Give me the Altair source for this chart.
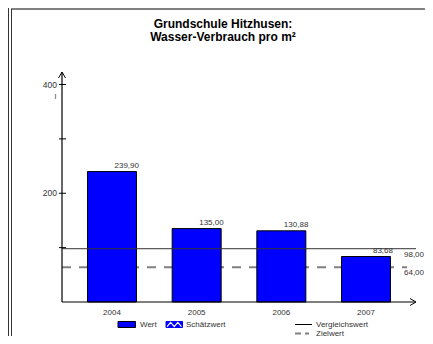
import altair as alt
import pandas as pd

# ---- data ----
years = [2004, 2005, 2006, 2007]
values = [239.90, 135.00, 130.88, 83.68]
value_labels = ["239,90", "135,00", "130,88", "83,68"]
year_labels = ["2004", "2005", "2006", "2007"]
ref_names = ["Vergleichswert", "Zielwert"]
ref_values = [98.00, 64.00]
ref_labels = ["98,00", "64,00"]
y_tick_values = [100, 200, 300, 400]
y_label_values = [200, 400]
y_label_texts = ["200", "400"]
title_lines = ["Grundschule Hitzhusen:", "Wasser-Verbrauch pro m²"]

bars = pd.DataFrame({"year": years, "value": values, "label": value_labels,
                     "ylab": year_labels})
refs = pd.DataFrame({"name": ref_names, "value": ref_values, "label": ref_labels})
yt = pd.DataFrame({"v": y_tick_values})
yl = pd.DataFrame({"v": y_label_values, "t": y_label_texts})
one = pd.DataFrame({"d": [0]})

FONT = "Liberation Sans"
TXT = "#333333"
W, H = 354, 230

xs = alt.Scale(domain=[2003.4095, 2007.5906], nice=False, zero=False, padding=0)
ys = alt.Scale(domain=[0, 423], nice=False, padding=0)

X = lambda f: alt.X(f, type="quantitative", scale=xs, axis=None)
Y = lambda f: alt.Y(f, type="quantitative", scale=ys, axis=None)

# bars
bar = alt.Chart(bars).mark_bar(size=49, color="#0000FF", stroke="black",
                               strokeWidth=1).encode(x=X("year"), y=Y("value"),
                                                     y2=alt.datum(0))
bar_txt = alt.Chart(bars).mark_text(align="right", baseline="bottom", dx=27, dy=-2,
                                    fontSize=8, font=FONT, color=TXT).encode(
    x=X("year"), y=Y("value"), text="label:N")
x_txt = alt.Chart(bars).mark_text(align="center", baseline="middle", fontSize=8,
                                  font=FONT, color=TXT).encode(
    x=X("year"), y=alt.value(H + 11), text="ylab:N")

# reference lines
verg = alt.Chart(refs).transform_filter(alt.datum.name == "Vergleichswert").mark_rule(
    color="#333333", strokeWidth=1).encode(y=Y("value"), x=alt.value(0), x2=alt.value(354))
ziel = alt.Chart(refs).transform_filter(alt.datum.name == "Zielwert").mark_rule(
    color="#808080", strokeWidth=2, strokeDash=[9, 8]).encode(
    y=Y("value"), x=alt.value(0), x2=alt.value(345))
ref_txt = alt.Chart(refs).mark_text(align="left", baseline="middle", dy=6, fontSize=8,
                                    font=FONT, color=TXT).encode(
    y=Y("value"), x=alt.value(342), text="label:N")

# axes
yaxis = alt.Chart(one).mark_rule(color="black", strokeWidth=1.2).encode(
    x=alt.value(0), y=alt.value(0), y2=alt.value(H))
xaxis = alt.Chart(one).mark_rule(color="black", strokeWidth=1.2).encode(
    x=alt.value(0), x2=alt.value(W), y=alt.value(H))
yarrow = alt.Chart(one).mark_point(shape="M-1,0.85L0,-0.85L1,0.85", filled=False,
                                   stroke="black", strokeWidth=1, size=49,
                                   opacity=1).encode(x=alt.value(0), y=alt.value(3))
xarrow = alt.Chart(one).mark_point(shape="M-0.85,-1L0.85,0L-0.85,1", filled=False,
                                   stroke="black", strokeWidth=1, size=49,
                                   opacity=1).encode(x=alt.value(W - 3), y=alt.value(H))
yticks = alt.Chart(yt).mark_rule(color="black", strokeWidth=1).encode(
    y=Y("v"), x=alt.value(-3), x2=alt.value(4))
ylabels = alt.Chart(yl).mark_text(align="right", baseline="middle", fontSize=8.5,
                                  font=FONT, color=TXT).encode(
    y=Y("v"), x=alt.value(-5), text="t:N")
ymark = alt.Chart(one).mark_text(text="I", align="center", baseline="middle",
                                 fontSize=7, font=FONT, color=TXT).encode(
    x=alt.value(-6.5), y=alt.value(25))

# title
t1 = alt.Chart(one).mark_text(text=title_lines[0], fontSize=12, fontWeight="bold",
                              font=FONT, color="black", align="center",
                              baseline="middle").encode(x=alt.value(161), y=alt.value(-48))
t2 = alt.Chart(one).mark_text(text=title_lines[1], fontSize=12, fontWeight="bold",
                              font=FONT, color="black", align="center",
                              baseline="middle").encode(x=alt.value(161), y=alt.value(-35.5))

# frame
ftop = alt.Chart(one).mark_rule(color="#808080", strokeWidth=2).encode(
    x=alt.value(-51), x2=alt.value(363), y=alt.value(-63))
fleft = alt.Chart(one).mark_rule(color="#333333", strokeWidth=1).encode(
    x=alt.value(-50.5), y=alt.value(-63), y2=alt.value(264))
fleft2 = alt.Chart(one).mark_rule(color="#333333", strokeWidth=1).encode(
    x=alt.value(-53.5), y=alt.value(-64), y2=alt.value(264))

# legend
R1, R2 = 252.5, 261.5
lg_wert = alt.Chart(one).mark_rect(color="#0000FF", stroke="black", strokeWidth=1).encode(
    x=alt.value(56), x2=alt.value(73.5), y=alt.value(R1 - 3), y2=alt.value(R1 + 3))
lg_schb = alt.Chart(one).mark_rect(color="#0000FF", stroke="#0000FF", strokeWidth=1).encode(
    x=alt.value(104), x2=alt.value(120.5), y=alt.value(R1 - 3), y2=alt.value(R1 + 3))
lg_zig = alt.Chart(one).mark_point(shape="M-0.85,0.25L-0.42,-0.25L0,0.25L0.42,-0.25L0.85,0.25",
                                   filled=False, stroke="white", strokeWidth=1.2, size=289,
                                   opacity=1).encode(x=alt.value(112.25), y=alt.value(R1))
lg_verg = alt.Chart(one).mark_rule(color="black", strokeWidth=1).encode(
    x=alt.value(233), x2=alt.value(250), y=alt.value(R1))
lg_ziel = alt.Chart(one).mark_rule(color="#808080", strokeWidth=2, strokeDash=[6, 4]).encode(
    x=alt.value(233), x2=alt.value(247), y=alt.value(R2))
leg_names = ["Wert", "Schätzwert", "Vergleichswert", "Zielwert"]
leg_x = [78, 124, 254, 254]
leg_y = [R1, R1, R1, R2]
lg_txt = alt.layer(*[
    alt.Chart(one).mark_text(text=n, align="left", baseline="middle", fontSize=8,
                             font=FONT, color=TXT).encode(x=alt.value(lx), y=alt.value(ly))
    for n, lx, ly in zip(leg_names, leg_x, leg_y)
])

chart = alt.layer(
    ftop, fleft, fleft2, t1, t2,
    ziel, bar, verg, bar_txt, ref_txt,
    yaxis, xaxis, yarrow, xarrow, yticks, ylabels, ymark, x_txt,
    lg_wert, lg_schb, lg_zig, lg_verg, lg_ziel, lg_txt,
).properties(
    width=W, height=H,
    padding={"left": 54, "top": 64, "right": 9, "bottom": 34},
    autosize=alt.AutoSizeParams(type="none"),
).configure_view(strokeWidth=0, stroke="transparent")

chart.save("out.html", embed_options={"renderer": "svg", "actions": False})
